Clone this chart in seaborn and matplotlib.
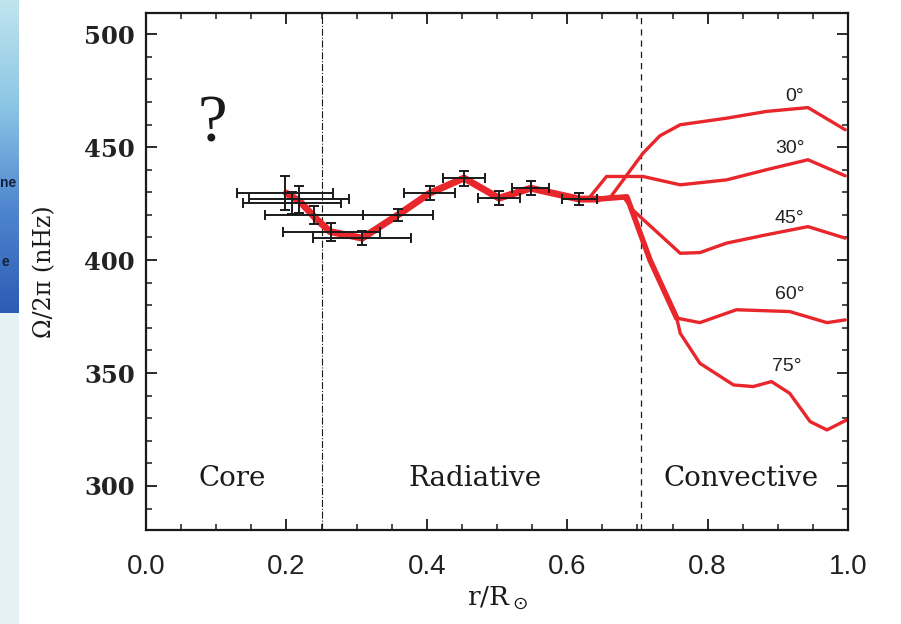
import matplotlib
matplotlib.use('Agg')
import matplotlib.pyplot as plt
from matplotlib.ticker import MultipleLocator
import seaborn as sns
import numpy as np

sns.set_style('ticks')

RED = '#e8262b'
INK = '#1a1a1a'

# helioseismic inversion points with error bars
pt_r = [0.198, 0.218, 0.208, 0.239, 0.264, 0.308, 0.359, 0.404, 0.453, 0.503, 0.548, 0.617]
pt_om = [429.6, 427.0, 425.2, 420.0, 412.6, 409.7, 420.0, 429.6, 436.3, 427.4, 431.8, 427.0]
pt_rerr = [0.069, 0.071, 0.070, 0.070, 0.069, 0.070, 0.050, 0.036, 0.030, 0.030, 0.026, 0.025]
pt_omerr = [7.6, 6.0, 5.0, 4.0, 4.0, 3.0, 2.8, 3.0, 3.3, 3.0, 3.0, 2.5]

# radiative interior profile
rad_r = [0.200, 0.219, 0.241, 0.262, 0.308, 0.359, 0.404, 0.453, 0.503, 0.548, 0.617, 0.644]
rad_om = [429.6, 426.0, 418.7, 412.6, 409.7, 420.0, 429.6, 436.3, 427.4, 431.8, 427.0, 427.0]

# convection zone, by latitude
lat0_r = [0.644, 0.662, 0.708, 0.732, 0.761, 0.827, 0.884, 0.943, 0.996]
lat0_om = [427.0, 428.0, 447.3, 455.0, 459.9, 462.8, 465.8, 467.5, 457.7]
lat30_r = [0.630, 0.656, 0.708, 0.761, 0.827, 0.884, 0.943, 0.996]
lat30_om = [427.0, 437.0, 437.0, 433.3, 435.5, 440.0, 444.4, 437.3]
lat45_r = [0.680, 0.694, 0.761, 0.789, 0.827, 0.884, 0.943, 0.996]
lat45_om = [428.0, 422.0, 403.0, 403.3, 407.5, 411.2, 414.8, 409.7]
trunk_r = [0.644, 0.685, 0.718, 0.756]
trunk_om = [427.0, 428.0, 400.0, 374.3]
lat60_r = [0.756, 0.789, 0.841, 0.917, 0.970, 0.996]
lat60_om = [374.3, 372.3, 378.0, 377.2, 372.3, 373.5]
lat75_r = [0.756, 0.761, 0.789, 0.837, 0.865, 0.891, 0.917, 0.946, 0.970, 0.998]
lat75_om = [374.3, 367.6, 354.3, 344.7, 344.0, 346.2, 341.0, 328.5, 324.8, 329.2]

lat_labels = ['0°', '30°', '45°', '60°', '75°']
lat_label_r = [0.924, 0.917, 0.917, 0.917, 0.913]
lat_label_om = [472.4, 449.6, 418.6, 384.6, 352.8]

zones = ['Core', 'Radiative', 'Convective']
zone_r = [0.123, 0.469, 0.848]
core_edge = 0.25
conv_edge = 0.705

fig = plt.figure(figsize=(9.01, 6.24), dpi=100)
fig.patch.set_facecolor('white')

# strip of the slide behind the figure
strip = fig.add_axes([0, 1 - 313/624, 19/901, 313/624])
grad = np.linspace(0, 1, 100).reshape(-1, 1)
cmap = matplotlib.colors.LinearSegmentedColormap.from_list('slide', ['#bfe4ef', '#8cc6e4', '#4f86cf', '#2d5cb5'])
strip.imshow(grad, aspect='auto', cmap=cmap, extent=[0, 1, 0, 1], origin='upper')
strip.text(0.02, 1 - 183/313, 'ne', fontsize=10, fontweight='bold', color='#14213d',
           va='center', ha='left', family='Liberation Sans')
strip.text(0.1, 1 - 262/313, 'e', fontsize=10, fontweight='bold', color='#14213d',
           va='center', ha='left', family='Liberation Sans')
strip.set_axis_off()
low = fig.add_axes([0, 0, 19/901, 311/624])
low.set_facecolor('#e4f1f5')
low.set_xticks([]); low.set_yticks([])
for s in low.spines.values():
    s.set_visible(False)

ax = fig.add_axes([146/901, 1 - 530/624, 702/901, (530 - 12.7)/624])

ax.axvline(core_edge, color=INK, lw=0.8, ls='-.', zorder=1)
ax.axvline(conv_edge, color=INK, lw=0.9, ls=(0, (5, 4)), zorder=1)

sns.lineplot(x=rad_r, y=rad_om, sort=False, estimator=None, color=RED, lw=5, ax=ax,
             solid_capstyle='round', solid_joinstyle='round', zorder=2)
sns.lineplot(x=trunk_r, y=trunk_om, sort=False, estimator=None, color=RED, lw=4, ax=ax,
             solid_capstyle='round', solid_joinstyle='round', zorder=2)
for rr, oo in [(lat0_r, lat0_om), (lat30_r, lat30_om), (lat45_r, lat45_om),
               (lat60_r, lat60_om), (lat75_r, lat75_om)]:
    sns.lineplot(x=rr, y=oo, sort=False, estimator=None, color=RED, lw=2.4, ax=ax,
                 solid_joinstyle='round', zorder=2)

ax.errorbar(pt_r, pt_om, xerr=pt_rerr, yerr=pt_omerr, fmt='none', ecolor=INK,
            elinewidth=1.4, capsize=3.5, capthick=1.4, zorder=3)

for lab, rr, oo in zip(lat_labels, lat_label_r, lat_label_om):
    ax.text(rr, oo, lab, fontsize=14, color='#222222', ha='center', va='center',
            family='Liberation Sans')
for lab, rr in zip(zones, zone_r):
    ax.text(rr, 303.5, lab, fontsize=20, color=INK, ha='center', va='center',
            family='DejaVu Serif')
ax.text(0.095, 460, '?', fontsize=48, color=INK, ha='center', va='center',
        family='Liberation Serif')

ax.set_xlim(0, 1)
ax.set_ylim(280.5, 509.5)
ax.xaxis.set_major_locator(MultipleLocator(0.2))
ax.xaxis.set_minor_locator(MultipleLocator(0.05))
ax.yaxis.set_major_locator(MultipleLocator(50))
ax.yaxis.set_minor_locator(MultipleLocator(10))
ax.tick_params(which='both', direction='in', top=True, right=True, color=INK)
ax.tick_params(which='major', length=8, width=1.3)
ax.tick_params(which='minor', length=4.5, width=1.1)
ax.tick_params(axis='x', pad=17)
ax.tick_params(axis='y', pad=8)
ax.set_xticklabels([f'{v:.1f}' for v in ax.get_xticks()])
for t in ax.get_xticklabels():
    t.set_family('Liberation Sans'); t.set_fontsize(20); t.set_color('#222222')
ax.set_yticks([300, 350, 400, 450, 500])
ax.set_yticklabels(['300', '350', '400', '450', '500'])
for t in ax.get_yticklabels():
    t.set_family('DejaVu Serif'); t.set_fontsize(17.5); t.set_fontweight('bold'); t.set_color('#222222')
ax.set_xlim(0, 1)
ax.set_ylim(280.5, 509.5)
for s in ax.spines.values():
    s.set_linewidth(1.6); s.set_color(INK)

ax.set_ylabel('Ω/2π (nHz)', fontsize=17, family='DejaVu Serif', color=INK)
ax.yaxis.set_label_coords(-0.128, 0.5)
plt.rcParams['mathtext.fontset'] = 'dejavuserif'
ax.set_xlabel(r'r/R$_\odot$', fontsize=19, family='DejaVu Serif', color=INK)
ax.xaxis.set_label_coords(0.5, -0.105)

fig.savefig('out.png', dpi=100)
